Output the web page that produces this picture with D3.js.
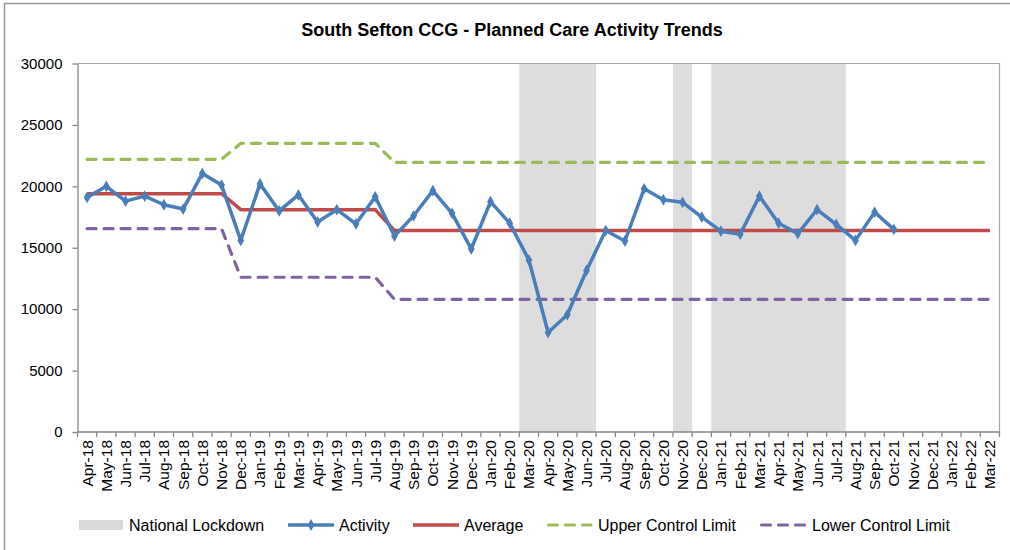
<!DOCTYPE html>
<html>
<head>
<meta charset="utf-8">
<script src="https://cdn.jsdelivr.net/npm/d3@7"></script>
<style>
  html, body { margin: 0; padding: 0; background: #fff; }
  svg { display: block; font-family: "Liberation Sans", Arial, sans-serif; }
</style>
</head>
<body>
<svg id="chart" width="1010" height="550"></svg>
<script>
const months = ["Apr-18","May-18","Jun-18","Jul-18","Aug-18","Sep-18","Oct-18","Nov-18","Dec-18","Jan-19","Feb-19","Mar-19",
  "Apr-19","May-19","Jun-19","Jul-19","Aug-19","Sep-19","Oct-19","Nov-19","Dec-19","Jan-20","Feb-20","Mar-20",
  "Apr-20","May-20","Jun-20","Jul-20","Aug-20","Sep-20","Oct-20","Nov-20","Dec-20","Jan-21","Feb-21","Mar-21",
  "Apr-21","May-21","Jun-21","Jul-21","Aug-21","Sep-21","Oct-21","Nov-21","Dec-21","Jan-22","Feb-22","Mar-22"];

const activity = [19100,20000,18800,19200,18500,18150,21050,20100,15600,20200,18000,19300,
  17100,18100,16950,19150,15950,17600,19650,17800,14900,18750,17000,14000,
  8100,9550,13150,16400,15550,19800,18900,18700,17500,16350,16100,19200,
  17000,16150,18100,16900,15600,17900,16500];

const average = [19400,19400,19400,19400,19400,19400,19400,19400,18100,18100,18100,18100,
  18100,18100,18100,18100,16400,16400,16400,16400,16400,16400,16400,16400,
  16400,16400,16400,16400,16400,16400,16400,16400,16400,16400,16400,16400,
  16400,16400,16400,16400,16400,16400,16400,16400,16400,16400,16400,16400];

const upperLimit = [22200,22200,22200,22200,22200,22200,22200,22200,23500,23500,23500,23500,
  23500,23500,23500,23500,21950,21950,21950,21950,21950,21950,21950,21950,
  21950,21950,21950,21950,21950,21950,21950,21950,21950,21950,21950,21950,
  21950,21950,21950,21950,21950,21950,21950,21950,21950,21950,21950,21950];

const lowerLimit = [16550,16550,16550,16550,16550,16550,16550,16550,12600,12600,12600,12600,
  12600,12600,12600,12600,10800,10800,10800,10800,10800,10800,10800,10800,
  10800,10800,10800,10800,10800,10800,10800,10800,10800,10800,10800,10800,
  10800,10800,10800,10800,10800,10800,10800,10800,10800,10800,10800,10800];

const lockdownMonths = ["Mar-20","Apr-20","May-20","Jun-20","Nov-20","Jan-21","Feb-21","Mar-21","Apr-21","May-21","Jun-21","Jul-21"];
const lockdownValue = 30000;

const yTicks = [0,5000,10000,15000,20000,25000,30000];

const title = "South Sefton CCG - Planned Care Activity Trends";

const colors = { activity: "#4A7EBB", average: "#BE4B48", ucl: "#9BBB59", lcl: "#8064A2", lockdown: "#DDDDDD", axis: "#868686" };

const svg = d3.select("#chart");

// outer chart border (top & left visible)
svg.append("rect").attr("x", 4.5).attr("y", 3.5).attr("width", 1020).attr("height", 560)
  .attr("fill", "none").attr("stroke", "#9a9a9a").attr("stroke-width", 1.5);

const L = 77.5, R = 999.5, T = 63.5, B = 432;
const x = d3.scaleBand().domain(months).range([L, R]).padding(0);
const y = d3.scaleLinear().domain([0, 30000]).range([B, T]);
const cx = m => x(m) + x.bandwidth() / 2;

// title
svg.append("text").attr("x", 512).attr("y", 36).attr("text-anchor", "middle")
  .attr("font-size", 18).attr("font-weight", "bold").attr("fill", "#000").text(title);

// lockdown shading: merge contiguous months into runs
const lockIdx = lockdownMonths.map(m => months.indexOf(m)).sort((a, b) => a - b);
const runs = [];
lockIdx.forEach(i => {
  const last = runs[runs.length - 1];
  if (last && last[1] === i - 1) last[1] = i; else runs.push([i, i]);
});
svg.append("g").selectAll("rect").data(runs).join("rect")
  .attr("x", d => x(months[d[0]]))
  .attr("width", d => x(months[d[1]]) + x.bandwidth() - x(months[d[0]]))
  .attr("y", y(lockdownValue)).attr("height", y(0) - y(lockdownValue))
  .attr("fill", colors.lockdown);

// plot border top/right
svg.append("path").attr("d", `M${L},${T}H${R}V${B}`).attr("fill", "none")
  .attr("stroke", "#A6A6A6").attr("stroke-width", 1.2);

// y axis
const yAxis = svg.append("g").attr("transform", `translate(${L},0)`)
  .call(d3.axisLeft(y).tickValues(yTicks).tickSize(5).tickSizeOuter(0).tickFormat(d3.format("d")));
yAxis.select(".domain").attr("stroke", colors.axis).attr("stroke-width", 1.3);
yAxis.selectAll(".tick line").attr("stroke", colors.axis).attr("stroke-width", 1.3);
yAxis.selectAll(".tick text").attr("font-size", 15).attr("fill", "#000").attr("x", -15)
  .attr("font-family", "Liberation Sans, Arial, sans-serif");

// x axis
const xg = svg.append("g");
xg.append("line").attr("x1", L).attr("x2", R).attr("y1", B).attr("y2", B)
  .attr("stroke", colors.axis).attr("stroke-width", 1.3);
const boundaries = months.map(m => x(m)).concat([R]);
xg.selectAll("line.tk").data(boundaries).join("line").attr("class", "tk")
  .attr("x1", d => d).attr("x2", d => d).attr("y1", B).attr("y2", B + 5)
  .attr("stroke", colors.axis).attr("stroke-width", 1.3);
xg.selectAll("text").data(months).join("text")
  .attr("transform", d => `translate(${cx(d) + 5.5},${B + 8}) rotate(-90)`)
  .attr("text-anchor", "end").attr("font-size", 15.5).attr("fill", "#000").text(d => d);

// lines
const lineGen = d3.line().x((d, i) => cx(months[i])).y(d => y(d));

svg.append("path").datum(lowerLimit).attr("d", lineGen).attr("fill", "none")
  .attr("stroke", colors.lcl).attr("stroke-width", 3.2).attr("stroke-dasharray", "9,8")
  .attr("stroke-linecap", "round").attr("stroke-linejoin", "round");
svg.append("path").datum(upperLimit).attr("d", lineGen).attr("fill", "none")
  .attr("stroke", colors.ucl).attr("stroke-width", 3.2).attr("stroke-dasharray", "9,8")
  .attr("stroke-linecap", "round").attr("stroke-linejoin", "round");
svg.append("path").datum(average).attr("d", lineGen).attr("fill", "none")
  .attr("stroke", colors.average).attr("stroke-width", 3.5).attr("stroke-linejoin", "round");
svg.append("path").datum(activity).attr("d", lineGen).attr("fill", "none")
  .attr("stroke", colors.activity).attr("stroke-width", 3.5).attr("stroke-linejoin", "round");

const diamond = d3.symbol().type(d3.symbolDiamond).size(40);
svg.append("g").selectAll("path").data(activity).join("path")
  .attr("d", diamond).attr("transform", (d, i) => `translate(${cx(months[i])},${y(d)})`)
  .attr("fill", colors.activity);

// legend
const lg = svg.append("g").attr("font-size", 16).attr("fill", "#000");
const ly = 525;
lg.append("rect").attr("x", 79).attr("y", ly - 5).attr("width", 44).attr("height", 10).attr("fill", "#D9D9D9");
lg.append("text").attr("x", 129).attr("y", ly + 5.5).text("National Lockdown");

lg.append("line").attr("x1", 288).attr("x2", 334).attr("y1", ly).attr("y2", ly)
  .attr("stroke", colors.activity).attr("stroke-width", 3.5);
lg.append("path").attr("d", diamond).attr("transform", `translate(311,${ly})`).attr("fill", colors.activity);
lg.append("text").attr("x", 339).attr("y", ly + 5.5).text("Activity");

lg.append("line").attr("x1", 413).attr("x2", 459).attr("y1", ly).attr("y2", ly)
  .attr("stroke", colors.average).attr("stroke-width", 3.5);
lg.append("text").attr("x", 464).attr("y", ly + 5.5).text("Average");

lg.append("line").attr("x1", 548.5).attr("x2", 591).attr("y1", ly).attr("y2", ly)
  .attr("stroke", colors.ucl).attr("stroke-width", 3.2).attr("stroke-dasharray", "9,8").attr("stroke-linecap", "round");
lg.append("text").attr("x", 598).attr("y", ly + 5.5).text("Upper Control Limit");

lg.append("line").attr("x1", 761.5).attr("x2", 805).attr("y1", ly).attr("y2", ly)
  .attr("stroke", colors.lcl).attr("stroke-width", 3.2).attr("stroke-dasharray", "9,8").attr("stroke-linecap", "round");
lg.append("text").attr("x", 812).attr("y", ly + 5.5).text("Lower Control Limit");
</script>
</body>
</html>
